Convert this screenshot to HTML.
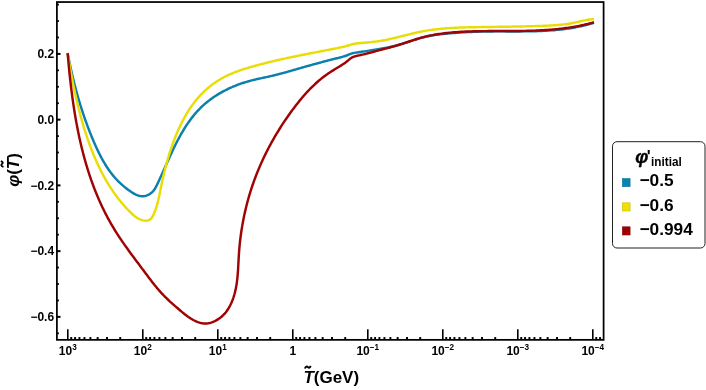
<!DOCTYPE html>
<html><head><meta charset="utf-8"><title>plot</title>
<style>
html,body{margin:0;padding:0;background:#fff;}
body{width:706px;height:390px;overflow:hidden;position:relative;font-family:"Liberation Sans",sans-serif;}
</style></head><body>
<svg width="706" height="390" viewBox="0 0 706 390" style="position:absolute;left:0;top:0;display:block;will-change:transform;-webkit-font-smoothing:antialiased">
<rect x="0" y="0" width="706" height="390" fill="#ffffff"/>
<g fill="none" stroke-width="2.45" stroke-linejoin="round" stroke-linecap="butt">
<path d="M67.57,52.95 L67.86,54.44 L68.15,55.92 L68.45,57.40 L68.74,58.88 L69.05,60.36 L69.35,61.84 L69.66,63.31 L69.97,64.78 L70.29,66.25 L70.61,67.72 L70.93,69.19 L71.26,70.65 L71.59,72.12 L71.93,73.58 L72.27,75.04 L72.61,76.50 L72.96,77.95 L73.31,79.41 L73.67,80.86 L74.03,82.31 L74.39,83.76 L74.76,85.20 L75.14,86.65 L75.52,88.09 L75.90,89.54 L76.29,90.98 L76.68,92.42 L77.08,93.85 L77.48,95.29 L77.89,96.72 L78.30,98.16 L78.72,99.59 L79.14,101.02 L79.57,102.45 L80.00,103.87 L80.44,105.30 L80.89,106.72 L81.34,108.14 L81.79,109.56 L82.25,110.98 L82.71,112.40 L83.19,113.82 L83.66,115.23 L84.14,116.65 L84.63,118.06 L85.13,119.47 L85.62,120.88 L86.13,122.29 L86.64,123.70 L87.16,125.10 L87.68,126.51 L88.21,127.91 L88.75,129.31 L89.29,130.71 L89.84,132.11 L90.39,133.51 L90.95,134.91 L91.52,136.30 L92.09,137.70 L92.67,139.09 L93.26,140.49 L93.86,141.88 L94.46,143.27 L95.07,144.65 L95.68,146.04 L96.31,147.42 L96.94,148.79 L97.59,150.16 L98.24,151.53 L98.90,152.89 L99.58,154.24 L100.27,155.59 L100.96,156.92 L101.68,158.25 L102.40,159.57 L103.13,160.88 L103.88,162.18 L104.65,163.47 L105.43,164.75 L106.22,166.01 L107.03,167.26 L107.85,168.50 L108.69,169.73 L109.55,170.94 L110.42,172.14 L111.31,173.32 L112.22,174.48 L113.15,175.63 L114.10,176.76 L115.06,177.87 L116.05,178.96 L117.05,180.03 L118.08,181.09 L119.13,182.13 L120.20,183.15 L121.29,184.15 L122.41,185.14 L123.55,186.12 L124.71,187.08 L125.90,188.03 L127.12,188.97 L128.36,189.90 L129.63,190.82 L130.93,191.72 L132.24,192.59 L133.58,193.40 L134.94,194.15 L136.32,194.81 L137.71,195.37 L139.11,195.81 L140.52,196.11 L141.94,196.26 L143.36,196.25 L144.78,196.06 L146.19,195.70 L147.56,195.19 L148.89,194.54 L150.17,193.76 L151.37,192.85 L152.48,191.84 L153.50,190.72 L154.40,189.52 L155.21,188.24 L155.94,186.92 L156.63,185.56 L157.29,184.19 L157.94,182.82 L158.59,181.46 L159.24,180.09 L159.87,178.72 L160.50,177.35 L161.13,175.99 L161.75,174.62 L162.37,173.25 L162.98,171.89 L163.59,170.52 L164.20,169.16 L164.81,167.79 L165.42,166.43 L166.02,165.07 L166.63,163.71 L167.24,162.35 L167.84,160.99 L168.45,159.64 L169.06,158.28 L169.68,156.93 L170.30,155.57 L170.92,154.22 L171.54,152.87 L172.17,151.52 L172.81,150.18 L173.45,148.83 L174.10,147.49 L174.76,146.15 L175.42,144.81 L176.09,143.48 L176.77,142.14 L177.46,140.81 L178.16,139.48 L178.87,138.15 L179.59,136.83 L180.32,135.51 L181.06,134.19 L181.81,132.88 L182.58,131.58 L183.35,130.28 L184.14,128.99 L184.94,127.71 L185.76,126.43 L186.58,125.17 L187.42,123.91 L188.28,122.67 L189.15,121.43 L190.03,120.21 L190.92,119.00 L191.83,117.80 L192.76,116.62 L193.70,115.45 L194.66,114.29 L195.63,113.15 L196.62,112.03 L197.62,110.92 L198.65,109.83 L199.69,108.76 L200.74,107.71 L201.81,106.67 L202.90,105.66 L204.01,104.66 L205.13,103.68 L206.27,102.72 L207.42,101.78 L208.59,100.85 L209.77,99.95 L210.97,99.06 L212.18,98.19 L213.40,97.34 L214.64,96.50 L215.89,95.69 L217.15,94.89 L218.42,94.11 L219.70,93.34 L221.00,92.60 L222.31,91.87 L223.62,91.16 L224.95,90.46 L226.29,89.79 L227.63,89.13 L228.99,88.48 L230.35,87.86 L231.72,87.25 L233.11,86.65 L234.49,86.08 L235.89,85.52 L237.29,84.98 L238.70,84.45 L240.11,83.94 L241.53,83.45 L242.96,82.97 L244.39,82.51 L245.82,82.06 L247.26,81.63 L248.70,81.22 L250.15,80.82 L251.60,80.44 L253.05,80.07 L254.51,79.72 L255.97,79.38 L257.42,79.05 L258.88,78.72 L260.35,78.40 L261.81,78.09 L263.27,77.78 L264.73,77.46 L266.20,77.15 L267.66,76.83 L269.12,76.51 L270.58,76.17 L272.03,75.83 L273.49,75.49 L274.94,75.13 L276.39,74.77 L277.85,74.40 L279.30,74.02 L280.74,73.64 L282.19,73.25 L283.64,72.86 L285.09,72.46 L286.53,72.06 L287.97,71.66 L289.42,71.25 L290.86,70.84 L292.30,70.43 L293.75,70.01 L295.19,69.60 L296.63,69.18 L298.07,68.76 L299.51,68.34 L300.95,67.93 L302.39,67.51 L303.83,67.10 L305.28,66.68 L306.72,66.27 L308.16,65.86 L309.60,65.46 L311.05,65.06 L312.49,64.66 L313.93,64.26 L315.38,63.87 L316.82,63.48 L318.27,63.09 L319.72,62.70 L321.16,62.32 L322.61,61.93 L324.06,61.55 L325.51,61.18 L326.96,60.80 L328.41,60.42 L329.86,60.05 L331.31,59.68 L332.76,59.30 L334.21,58.93 L335.67,58.56 L337.12,58.20 L338.57,57.83 L340.03,57.46 L341.48,57.08 L342.93,56.68 L344.36,56.24 L345.78,55.77 L347.18,55.25 L348.57,54.68 L349.95,54.11 L351.35,53.60 L352.77,53.18 L354.23,52.87 L355.70,52.63 L357.18,52.42 L358.67,52.23 L360.16,52.02 L361.64,51.80 L363.12,51.57 L364.60,51.34 L366.08,51.10 L367.56,50.85 L369.04,50.60 L370.52,50.35 L371.99,50.11 L373.47,49.86 L374.95,49.62 L376.44,49.38 L377.92,49.14 L379.40,48.90 L380.88,48.66 L382.36,48.41 L383.83,48.15 L385.31,47.89 L386.78,47.62 L388.25,47.34 L389.72,47.05 L391.18,46.75 L392.65,46.43 L394.10,46.10 L395.55,45.75 L397.00,45.38 L398.44,44.99 L399.88,44.58 L401.31,44.15 L402.74,43.71 L404.17,43.26 L405.59,42.79 L407.02,42.32 L408.44,41.85 L409.86,41.37 L411.28,40.89 L412.70,40.42 L414.12,39.95 L415.54,39.49 L416.97,39.04 L418.40,38.60 L419.83,38.18 L421.27,37.77 L422.72,37.39 L424.17,37.02 L425.62,36.68 L427.08,36.36 L428.55,36.06 L430.02,35.78 L431.49,35.52 L432.97,35.28 L434.45,35.05 L435.94,34.84 L437.43,34.64 L438.92,34.45 L440.41,34.27 L441.90,34.11 L443.40,33.95 L444.89,33.80 L446.39,33.66 L447.89,33.53 L449.38,33.39 L450.88,33.27 L452.37,33.14 L453.87,33.02 L455.36,32.91 L456.86,32.80 L458.35,32.69 L459.84,32.59 L461.34,32.49 L462.83,32.39 L464.32,32.30 L465.81,32.21 L467.31,32.13 L468.80,32.05 L470.29,31.98 L471.79,31.91 L473.28,31.85 L474.77,31.79 L476.27,31.73 L477.76,31.68 L479.26,31.63 L480.75,31.59 L482.25,31.55 L483.75,31.52 L485.24,31.49 L486.74,31.47 L488.24,31.45 L489.74,31.43 L491.24,31.42 L492.73,31.41 L494.23,31.40 L495.73,31.39 L497.23,31.39 L498.73,31.39 L500.24,31.39 L501.74,31.39 L503.24,31.39 L504.74,31.40 L506.24,31.40 L507.74,31.40 L509.24,31.41 L510.74,31.41 L512.25,31.41 L513.75,31.41 L515.25,31.42 L516.75,31.42 L518.25,31.41 L519.75,31.41 L521.25,31.40 L522.75,31.39 L524.25,31.38 L525.75,31.37 L527.25,31.35 L528.75,31.33 L530.25,31.30 L531.75,31.27 L533.25,31.24 L534.74,31.20 L536.24,31.16 L537.74,31.11 L539.23,31.06 L540.73,31.00 L542.22,30.93 L543.72,30.86 L545.21,30.78 L546.70,30.70 L548.20,30.61 L549.69,30.51 L551.18,30.40 L552.67,30.29 L554.16,30.17 L555.64,30.03 L557.13,29.89 L558.62,29.75 L560.10,29.59 L561.58,29.42 L563.07,29.24 L564.55,29.06 L566.03,28.86 L567.51,28.65 L568.99,28.43 L570.47,28.20 L571.94,27.96 L573.42,27.71 L574.89,27.44 L576.36,27.17 L577.83,26.88 L579.30,26.57 L580.77,26.26 L582.24,25.93 L583.70,25.59 L585.17,25.23 L586.63,24.86 L588.09,24.48 L589.55,24.08 L591.00,23.67 L592.46,23.24 L593.91,22.80" stroke="#0b7fad"/>
<path d="M67.55,52.99 L67.79,54.47 L68.04,55.95 L68.29,57.43 L68.54,58.90 L68.79,60.38 L69.04,61.86 L69.30,63.33 L69.55,64.81 L69.81,66.28 L70.08,67.76 L70.34,69.24 L70.61,70.71 L70.88,72.18 L71.15,73.66 L71.43,75.13 L71.71,76.61 L71.99,78.08 L72.27,79.55 L72.56,81.02 L72.85,82.49 L73.14,83.96 L73.44,85.43 L73.74,86.90 L74.05,88.37 L74.36,89.84 L74.67,91.30 L74.98,92.77 L75.30,94.23 L75.63,95.70 L75.95,97.16 L76.29,98.62 L76.62,100.08 L76.96,101.54 L77.31,103.00 L77.66,104.46 L78.01,105.92 L78.37,107.37 L78.73,108.82 L79.10,110.28 L79.48,111.73 L79.86,113.18 L80.24,114.63 L80.63,116.07 L81.02,117.52 L81.42,118.96 L81.83,120.40 L82.24,121.85 L82.66,123.28 L83.08,124.72 L83.51,126.16 L83.94,127.59 L84.38,129.02 L84.83,130.46 L85.28,131.88 L85.74,133.31 L86.21,134.74 L86.68,136.16 L87.16,137.58 L87.64,139.00 L88.13,140.42 L88.63,141.83 L89.14,143.24 L89.65,144.66 L90.17,146.06 L90.70,147.47 L91.23,148.87 L91.77,150.27 L92.32,151.67 L92.88,153.06 L93.45,154.45 L94.02,155.84 L94.61,157.22 L95.20,158.60 L95.80,159.97 L96.40,161.34 L97.02,162.71 L97.65,164.07 L98.28,165.43 L98.92,166.78 L99.58,168.13 L100.24,169.47 L100.91,170.81 L101.59,172.14 L102.28,173.47 L102.98,174.79 L103.69,176.10 L104.41,177.41 L105.15,178.72 L105.89,180.02 L106.64,181.31 L107.40,182.59 L108.18,183.87 L108.96,185.14 L109.75,186.41 L110.56,187.66 L111.38,188.91 L112.21,190.16 L113.05,191.39 L113.90,192.62 L114.76,193.84 L115.64,195.05 L116.53,196.26 L117.43,197.45 L118.34,198.64 L119.26,199.82 L120.20,200.99 L121.15,202.15 L122.11,203.30 L123.09,204.45 L124.07,205.58 L125.07,206.70 L126.08,207.82 L127.11,208.92 L128.15,210.02 L129.20,211.10 L130.27,212.18 L131.35,213.24 L132.45,214.28 L133.58,215.28 L134.74,216.24 L135.95,217.14 L137.20,217.97 L138.51,218.72 L139.88,219.37 L141.33,219.92 L142.83,220.35 L144.36,220.63 L145.88,220.72 L147.33,220.62 L148.67,220.27 L149.87,219.66 L150.90,218.79 L151.80,217.72 L152.58,216.48 L153.27,215.14 L153.90,213.74 L154.49,212.32 L155.04,210.90 L155.56,209.47 L156.05,208.03 L156.51,206.59 L156.94,205.15 L157.35,203.70 L157.73,202.24 L158.10,200.79 L158.45,199.32 L158.78,197.86 L159.10,196.39 L159.41,194.93 L159.72,193.46 L160.02,191.99 L160.31,190.52 L160.60,189.05 L160.90,187.57 L161.20,186.11 L161.50,184.64 L161.81,183.17 L162.12,181.70 L162.44,180.24 L162.77,178.78 L163.10,177.32 L163.43,175.86 L163.77,174.40 L164.12,172.94 L164.47,171.48 L164.84,170.03 L165.20,168.58 L165.58,167.13 L165.96,165.68 L166.34,164.23 L166.74,162.79 L167.14,161.35 L167.55,159.91 L167.97,158.47 L168.39,157.03 L168.83,155.60 L169.27,154.17 L169.72,152.74 L170.17,151.31 L170.64,149.89 L171.11,148.46 L171.60,147.04 L172.09,145.63 L172.59,144.21 L173.11,142.80 L173.63,141.39 L174.16,139.99 L174.70,138.58 L175.25,137.19 L175.81,135.79 L176.38,134.40 L176.96,133.01 L177.56,131.63 L178.16,130.25 L178.78,128.88 L179.40,127.51 L180.04,126.15 L180.69,124.80 L181.35,123.45 L182.02,122.11 L182.71,120.78 L183.41,119.45 L184.12,118.14 L184.84,116.83 L185.58,115.54 L186.33,114.25 L187.09,112.97 L187.87,111.70 L188.66,110.44 L189.47,109.20 L190.29,107.96 L191.13,106.74 L191.98,105.52 L192.85,104.32 L193.74,103.13 L194.65,101.95 L195.58,100.78 L196.52,99.63 L197.49,98.48 L198.47,97.36 L199.48,96.24 L200.50,95.14 L201.54,94.05 L202.60,92.98 L203.68,91.92 L204.77,90.88 L205.89,89.86 L207.01,88.86 L208.16,87.87 L209.32,86.90 L210.49,85.96 L211.69,85.03 L212.89,84.13 L214.11,83.24 L215.34,82.38 L216.59,81.55 L217.85,80.73 L219.12,79.94 L220.41,79.18 L221.71,78.44 L223.01,77.72 L224.33,77.02 L225.66,76.35 L227.00,75.70 L228.35,75.06 L229.71,74.45 L231.07,73.86 L232.45,73.28 L233.83,72.72 L235.22,72.17 L236.61,71.65 L238.02,71.13 L239.43,70.63 L240.84,70.14 L242.26,69.66 L243.68,69.20 L245.11,68.74 L246.54,68.30 L247.97,67.86 L249.41,67.43 L250.85,67.01 L252.29,66.59 L253.73,66.18 L255.18,65.78 L256.62,65.38 L258.07,64.98 L259.52,64.60 L260.97,64.21 L262.42,63.83 L263.87,63.46 L265.32,63.09 L266.78,62.73 L268.24,62.37 L269.69,62.01 L271.15,61.66 L272.61,61.32 L274.07,60.97 L275.53,60.64 L276.99,60.30 L278.46,59.97 L279.92,59.64 L281.39,59.31 L282.85,58.99 L284.32,58.67 L285.78,58.36 L287.25,58.04 L288.72,57.73 L290.19,57.42 L291.65,57.12 L293.12,56.81 L294.59,56.51 L296.06,56.21 L297.53,55.91 L299.00,55.61 L300.47,55.32 L301.94,55.02 L303.41,54.73 L304.88,54.44 L306.35,54.14 L307.82,53.85 L309.29,53.56 L310.76,53.27 L312.23,52.99 L313.70,52.70 L315.17,52.41 L316.64,52.12 L318.11,51.83 L319.58,51.55 L321.05,51.26 L322.52,50.97 L323.99,50.69 L325.46,50.40 L326.93,50.11 L328.40,49.83 L329.87,49.54 L331.34,49.25 L332.81,48.97 L334.28,48.68 L335.75,48.39 L337.22,48.11 L338.70,47.82 L340.17,47.53 L341.64,47.23 L343.10,46.91 L344.56,46.56 L346.00,46.17 L347.44,45.74 L348.86,45.27 L350.29,44.81 L351.72,44.39 L353.17,44.04 L354.63,43.75 L356.11,43.52 L357.60,43.33 L359.09,43.17 L360.59,43.04 L362.09,42.93 L363.59,42.82 L365.09,42.70 L366.59,42.58 L368.08,42.44 L369.58,42.30 L371.06,42.14 L372.55,41.98 L374.04,41.80 L375.52,41.61 L377.00,41.41 L378.48,41.19 L379.95,40.96 L381.43,40.71 L382.90,40.45 L384.37,40.18 L385.83,39.89 L387.30,39.59 L388.76,39.28 L390.22,38.96 L391.69,38.63 L393.15,38.29 L394.60,37.95 L396.06,37.60 L397.52,37.25 L398.98,36.89 L400.43,36.53 L401.89,36.16 L403.34,35.80 L404.80,35.43 L406.26,35.07 L407.71,34.71 L409.17,34.35 L410.63,33.99 L412.08,33.64 L413.54,33.30 L415.00,32.96 L416.47,32.63 L417.93,32.31 L419.39,31.99 L420.86,31.69 L422.33,31.40 L423.80,31.12 L425.27,30.86 L426.74,30.61 L428.22,30.37 L429.70,30.14 L431.18,29.93 L432.66,29.72 L434.14,29.53 L435.63,29.35 L437.11,29.18 L438.60,29.01 L440.09,28.86 L441.58,28.72 L443.07,28.58 L444.56,28.46 L446.06,28.34 L447.55,28.23 L449.05,28.13 L450.54,28.03 L452.04,27.95 L453.54,27.86 L455.04,27.79 L456.54,27.72 L458.04,27.65 L459.54,27.59 L461.04,27.54 L462.54,27.49 L464.04,27.44 L465.54,27.40 L467.05,27.36 L468.55,27.32 L470.05,27.29 L471.55,27.25 L473.05,27.22 L474.56,27.20 L476.06,27.17 L477.56,27.14 L479.06,27.11 L480.56,27.09 L482.06,27.07 L483.56,27.04 L485.06,27.02 L486.56,27.00 L488.06,26.97 L489.55,26.95 L491.05,26.93 L492.55,26.91 L494.05,26.89 L495.55,26.87 L497.04,26.85 L498.54,26.82 L500.04,26.80 L501.54,26.78 L503.03,26.76 L504.53,26.74 L506.03,26.72 L507.53,26.69 L509.02,26.67 L510.52,26.65 L512.02,26.62 L513.51,26.59 L515.01,26.57 L516.51,26.54 L518.00,26.51 L519.50,26.48 L521.00,26.45 L522.49,26.42 L523.99,26.39 L525.49,26.35 L526.98,26.31 L528.48,26.28 L529.98,26.24 L531.47,26.20 L532.97,26.15 L534.47,26.11 L535.97,26.06 L537.46,26.01 L538.96,25.96 L540.46,25.91 L541.96,25.86 L543.46,25.80 L544.95,25.74 L546.45,25.68 L547.95,25.61 L549.45,25.54 L550.95,25.47 L552.45,25.39 L553.94,25.30 L555.44,25.20 L556.93,25.09 L558.43,24.97 L559.92,24.84 L561.41,24.69 L562.90,24.53 L564.39,24.36 L565.88,24.17 L567.36,23.96 L568.84,23.73 L570.32,23.48 L571.79,23.21 L573.26,22.92 L574.74,22.61 L576.20,22.29 L577.67,21.96 L579.14,21.63 L580.61,21.30 L582.07,20.98 L583.54,20.66 L585.01,20.36 L586.49,20.07 L587.96,19.81 L589.44,19.57 L590.92,19.36 L592.41,19.18 L593.90,19.04" stroke="#e9dd06"/>
<path d="M67.63,53.08 L67.76,54.55 L67.89,56.03 L68.01,57.50 L68.15,58.98 L68.28,60.46 L68.41,61.93 L68.55,63.41 L68.69,64.89 L68.83,66.38 L68.98,67.86 L69.12,69.34 L69.27,70.83 L69.42,72.31 L69.58,73.80 L69.73,75.28 L69.89,76.77 L70.05,78.26 L70.22,79.74 L70.38,81.23 L70.55,82.72 L70.73,84.21 L70.90,85.70 L71.08,87.19 L71.26,88.68 L71.45,90.17 L71.64,91.66 L71.83,93.15 L72.02,94.64 L72.22,96.13 L72.42,97.62 L72.63,99.11 L72.84,100.60 L73.05,102.08 L73.27,103.57 L73.48,105.06 L73.71,106.55 L73.94,108.04 L74.17,109.53 L74.40,111.01 L74.64,112.50 L74.89,113.99 L75.13,115.47 L75.39,116.96 L75.64,118.44 L75.90,119.93 L76.17,121.41 L76.44,122.89 L76.71,124.37 L76.99,125.85 L77.27,127.33 L77.56,128.81 L77.85,130.28 L78.15,131.76 L78.45,133.23 L78.76,134.71 L79.07,136.18 L79.39,137.65 L79.71,139.12 L80.04,140.59 L80.37,142.05 L80.71,143.52 L81.05,144.98 L81.40,146.45 L81.76,147.91 L82.12,149.36 L82.48,150.82 L82.85,152.28 L83.23,153.73 L83.61,155.18 L84.00,156.63 L84.39,158.08 L84.79,159.52 L85.20,160.97 L85.61,162.41 L86.03,163.85 L86.46,165.28 L86.89,166.72 L87.32,168.15 L87.77,169.58 L88.22,171.01 L88.67,172.44 L89.14,173.86 L89.61,175.28 L90.08,176.70 L90.57,178.11 L91.05,179.53 L91.55,180.94 L92.05,182.34 L92.56,183.75 L93.08,185.15 L93.61,186.55 L94.14,187.94 L94.68,189.34 L95.22,190.73 L95.78,192.11 L96.34,193.50 L96.90,194.88 L97.48,196.25 L98.06,197.63 L98.65,199.00 L99.25,200.37 L99.86,201.73 L100.47,203.09 L101.09,204.45 L101.72,205.80 L102.36,207.15 L103.01,208.50 L103.66,209.84 L104.32,211.18 L104.99,212.51 L105.67,213.85 L106.36,215.17 L107.05,216.50 L107.76,217.82 L108.47,219.13 L109.19,220.44 L109.92,221.75 L110.66,223.06 L111.40,224.35 L112.16,225.65 L112.92,226.94 L113.69,228.23 L114.48,229.51 L115.27,230.79 L116.07,232.06 L116.87,233.33 L117.69,234.60 L118.51,235.86 L119.34,237.12 L120.18,238.37 L121.02,239.62 L121.87,240.87 L122.72,242.11 L123.58,243.35 L124.45,244.59 L125.31,245.83 L126.19,247.06 L127.07,248.29 L127.95,249.51 L128.83,250.74 L129.72,251.96 L130.61,253.18 L131.51,254.40 L132.40,255.61 L133.30,256.83 L134.20,258.04 L135.10,259.25 L136.00,260.45 L136.90,261.66 L137.80,262.86 L138.71,264.07 L139.61,265.27 L140.51,266.47 L141.41,267.67 L142.30,268.87 L143.20,270.07 L144.09,271.27 L144.98,272.46 L145.88,273.66 L146.77,274.85 L147.66,276.04 L148.55,277.23 L149.45,278.42 L150.34,279.60 L151.25,280.78 L152.15,281.95 L153.07,283.12 L153.99,284.28 L154.92,285.44 L155.86,286.59 L156.80,287.74 L157.76,288.88 L158.73,290.01 L159.71,291.13 L160.70,292.24 L161.71,293.34 L162.73,294.44 L163.77,295.52 L164.83,296.60 L165.90,297.66 L166.99,298.71 L168.09,299.76 L169.20,300.79 L170.33,301.81 L171.46,302.83 L172.59,303.84 L173.73,304.84 L174.86,305.83 L176.00,306.82 L177.13,307.80 L178.25,308.77 L179.37,309.74 L180.48,310.70 L181.60,311.65 L182.72,312.60 L183.85,313.52 L185.00,314.44 L186.16,315.33 L187.35,316.21 L188.57,317.07 L189.82,317.91 L191.10,318.72 L192.42,319.50 L193.78,320.24 L195.16,320.94 L196.56,321.57 L197.99,322.13 L199.43,322.62 L200.89,323.01 L202.35,323.31 L203.82,323.49 L205.29,323.56 L206.76,323.50 L208.22,323.31 L209.67,323.01 L211.10,322.60 L212.51,322.10 L213.90,321.52 L215.25,320.86 L216.58,320.15 L217.86,319.38 L219.11,318.55 L220.32,317.67 L221.48,316.73 L222.60,315.74 L223.67,314.70 L224.70,313.60 L225.67,312.46 L226.59,311.28 L227.47,310.05 L228.29,308.78 L229.07,307.48 L229.80,306.15 L230.49,304.79 L231.14,303.42 L231.75,302.03 L232.32,300.62 L232.86,299.21 L233.36,297.79 L233.82,296.36 L234.26,294.93 L234.66,293.50 L235.03,292.05 L235.37,290.61 L235.69,289.16 L235.98,287.70 L236.25,286.24 L236.50,284.78 L236.72,283.31 L236.93,281.84 L237.11,280.36 L237.28,278.88 L237.44,277.40 L237.58,275.92 L237.70,274.43 L237.82,272.94 L237.93,271.45 L238.02,269.95 L238.12,268.46 L238.20,266.96 L238.28,265.46 L238.36,263.96 L238.44,262.46 L238.52,260.96 L238.59,259.46 L238.68,257.96 L238.76,256.46 L238.85,254.96 L238.95,253.46 L239.06,251.96 L239.18,250.46 L239.30,248.96 L239.43,247.46 L239.57,245.96 L239.72,244.47 L239.87,242.97 L240.03,241.48 L240.21,239.98 L240.39,238.49 L240.57,237.00 L240.77,235.51 L240.97,234.02 L241.18,232.53 L241.40,231.04 L241.63,229.56 L241.87,228.08 L242.11,226.59 L242.37,225.11 L242.63,223.63 L242.90,222.16 L243.17,220.68 L243.46,219.21 L243.75,217.73 L244.05,216.26 L244.36,214.79 L244.68,213.33 L245.01,211.86 L245.34,210.40 L245.69,208.94 L246.04,207.48 L246.40,206.03 L246.76,204.57 L247.14,203.12 L247.52,201.67 L247.92,200.23 L248.32,198.78 L248.73,197.34 L249.14,195.90 L249.57,194.46 L250.00,193.03 L250.45,191.60 L250.90,190.17 L251.36,188.75 L251.82,187.32 L252.30,185.90 L252.78,184.49 L253.27,183.08 L253.77,181.67 L254.28,180.26 L254.80,178.85 L255.32,177.45 L255.86,176.05 L256.40,174.66 L256.95,173.27 L257.51,171.88 L258.07,170.50 L258.64,169.11 L259.23,167.73 L259.81,166.36 L260.41,164.99 L261.01,163.62 L261.63,162.25 L262.25,160.89 L262.87,159.53 L263.51,158.18 L264.15,156.82 L264.80,155.48 L265.46,154.13 L266.13,152.79 L266.80,151.45 L267.48,150.12 L268.16,148.79 L268.86,147.46 L269.56,146.13 L270.27,144.81 L270.99,143.50 L271.71,142.18 L272.44,140.87 L273.18,139.57 L273.92,138.27 L274.67,136.97 L275.43,135.67 L276.20,134.38 L276.97,133.09 L277.75,131.81 L278.54,130.53 L279.33,129.25 L280.13,127.98 L280.93,126.71 L281.75,125.45 L282.57,124.19 L283.39,122.93 L284.22,121.68 L285.06,120.43 L285.91,119.19 L286.76,117.95 L287.62,116.71 L288.48,115.48 L289.35,114.25 L290.23,113.02 L291.11,111.80 L292.00,110.59 L292.90,109.37 L293.80,108.17 L294.71,106.96 L295.63,105.77 L296.55,104.57 L297.48,103.39 L298.42,102.21 L299.36,101.04 L300.31,99.87 L301.27,98.71 L302.24,97.56 L303.22,96.42 L304.20,95.29 L305.20,94.17 L306.20,93.05 L307.22,91.95 L308.24,90.85 L309.27,89.77 L310.31,88.70 L311.36,87.63 L312.43,86.58 L313.50,85.55 L314.58,84.52 L315.68,83.51 L316.78,82.51 L317.90,81.52 L319.03,80.55 L320.17,79.59 L321.32,78.65 L322.48,77.72 L323.66,76.80 L324.85,75.91 L326.05,75.03 L327.26,74.16 L328.49,73.31 L329.73,72.48 L330.98,71.67 L332.25,70.87 L333.52,70.09 L334.81,69.31 L336.09,68.54 L337.38,67.76 L338.67,66.99 L339.94,66.20 L341.22,65.40 L342.48,64.59 L343.72,63.75 L344.95,62.89 L346.16,62.01 L347.34,61.08 L348.50,60.13 L349.64,59.15 L350.81,58.22 L352.05,57.43 L353.39,56.82 L354.81,56.36 L356.29,55.99 L357.78,55.67 L359.27,55.35 L360.75,55.02 L362.22,54.67 L363.67,54.32 L365.13,53.95 L366.57,53.58 L368.02,53.21 L369.46,52.83 L370.90,52.45 L372.34,52.07 L373.78,51.70 L375.23,51.32 L376.68,50.94 L378.12,50.57 L379.57,50.19 L381.03,49.81 L382.48,49.43 L383.93,49.05 L385.38,48.67 L386.83,48.28 L388.29,47.89 L389.74,47.49 L391.19,47.09 L392.63,46.68 L394.08,46.26 L395.52,45.84 L396.97,45.41 L398.40,44.97 L399.84,44.53 L401.27,44.07 L402.70,43.62 L404.13,43.15 L405.56,42.69 L406.99,42.22 L408.42,41.75 L409.84,41.29 L411.27,40.83 L412.70,40.37 L414.12,39.92 L415.55,39.47 L416.98,39.03 L418.42,38.60 L419.85,38.19 L421.29,37.78 L422.73,37.39 L424.17,37.02 L425.62,36.66 L427.07,36.31 L428.52,35.98 L429.98,35.67 L431.44,35.37 L432.91,35.08 L434.37,34.81 L435.84,34.55 L437.31,34.30 L438.79,34.07 L440.26,33.84 L441.74,33.63 L443.22,33.43 L444.71,33.24 L446.19,33.07 L447.68,32.90 L449.17,32.74 L450.66,32.60 L452.15,32.46 L453.65,32.33 L455.14,32.21 L456.64,32.10 L458.14,32.00 L459.64,31.90 L461.14,31.81 L462.64,31.73 L464.14,31.65 L465.64,31.59 L467.15,31.52 L468.65,31.47 L470.16,31.41 L471.66,31.37 L473.16,31.32 L474.67,31.29 L476.17,31.25 L477.68,31.22 L479.18,31.19 L480.69,31.17 L482.19,31.15 L483.70,31.13 L485.20,31.11 L486.71,31.10 L488.21,31.09 L489.72,31.08 L491.22,31.07 L492.72,31.06 L494.23,31.06 L495.73,31.05 L497.23,31.05 L498.74,31.05 L500.24,31.04 L501.74,31.04 L503.24,31.04 L504.75,31.04 L506.25,31.03 L507.75,31.03 L509.25,31.03 L510.75,31.02 L512.25,31.01 L513.75,31.00 L515.25,30.99 L516.75,30.98 L518.25,30.97 L519.75,30.95 L521.25,30.93 L522.75,30.91 L524.24,30.88 L525.74,30.85 L527.24,30.82 L528.74,30.79 L530.23,30.75 L531.73,30.70 L533.22,30.65 L534.72,30.60 L536.21,30.54 L537.70,30.48 L539.20,30.41 L540.69,30.34 L542.18,30.26 L543.67,30.18 L545.16,30.08 L546.65,29.99 L548.14,29.88 L549.63,29.77 L551.12,29.66 L552.61,29.53 L554.09,29.40 L555.58,29.26 L557.07,29.12 L558.55,28.96 L560.04,28.80 L561.52,28.63 L563.00,28.45 L564.48,28.26 L565.97,28.06 L567.45,27.85 L568.93,27.64 L570.41,27.41 L571.88,27.17 L573.36,26.93 L574.84,26.67 L576.31,26.40 L577.79,26.12 L579.26,25.83 L580.74,25.53 L582.21,25.22 L583.68,24.90 L585.15,24.56 L586.62,24.22 L588.09,23.86 L589.56,23.48 L591.02,23.10 L592.49,22.70 L593.96,22.29" stroke="#a00303"/>
</g>
<rect x="56.9" y="2.05" width="546.7" height="337.8" fill="none" stroke="#000" stroke-width="1.75"/>
<g stroke="#000" fill="none"><line x1="67.80" y1="339.85" x2="67.80" y2="329.2" stroke-width="1.6"/><line x1="71.23" y1="339.85" x2="71.23" y2="337.05" stroke-width="1.95"/><line x1="75.07" y1="339.85" x2="75.07" y2="337.05" stroke-width="1.95"/><line x1="79.42" y1="339.85" x2="79.42" y2="337.05" stroke-width="1.95"/><line x1="84.44" y1="339.85" x2="84.44" y2="337.05" stroke-width="1.95"/><line x1="90.38" y1="339.85" x2="90.38" y2="337.05" stroke-width="1.95"/><line x1="97.65" y1="339.85" x2="97.65" y2="337.05" stroke-width="1.95"/><line x1="107.02" y1="339.85" x2="107.02" y2="337.05" stroke-width="1.95"/><line x1="120.22" y1="339.85" x2="120.22" y2="337.05" stroke-width="1.95"/><line x1="142.80" y1="339.85" x2="142.80" y2="329.2" stroke-width="1.6"/><line x1="146.23" y1="339.85" x2="146.23" y2="337.05" stroke-width="1.95"/><line x1="150.07" y1="339.85" x2="150.07" y2="337.05" stroke-width="1.95"/><line x1="154.42" y1="339.85" x2="154.42" y2="337.05" stroke-width="1.95"/><line x1="159.44" y1="339.85" x2="159.44" y2="337.05" stroke-width="1.95"/><line x1="165.38" y1="339.85" x2="165.38" y2="337.05" stroke-width="1.95"/><line x1="172.65" y1="339.85" x2="172.65" y2="337.05" stroke-width="1.95"/><line x1="182.02" y1="339.85" x2="182.02" y2="337.05" stroke-width="1.95"/><line x1="195.22" y1="339.85" x2="195.22" y2="337.05" stroke-width="1.95"/><line x1="217.80" y1="339.85" x2="217.80" y2="329.2" stroke-width="1.6"/><line x1="221.23" y1="339.85" x2="221.23" y2="337.05" stroke-width="1.95"/><line x1="225.07" y1="339.85" x2="225.07" y2="337.05" stroke-width="1.95"/><line x1="229.42" y1="339.85" x2="229.42" y2="337.05" stroke-width="1.95"/><line x1="234.44" y1="339.85" x2="234.44" y2="337.05" stroke-width="1.95"/><line x1="240.38" y1="339.85" x2="240.38" y2="337.05" stroke-width="1.95"/><line x1="247.65" y1="339.85" x2="247.65" y2="337.05" stroke-width="1.95"/><line x1="257.02" y1="339.85" x2="257.02" y2="337.05" stroke-width="1.95"/><line x1="270.22" y1="339.85" x2="270.22" y2="337.05" stroke-width="1.95"/><line x1="292.80" y1="339.85" x2="292.80" y2="329.2" stroke-width="1.6"/><line x1="296.23" y1="339.85" x2="296.23" y2="337.05" stroke-width="1.95"/><line x1="300.07" y1="339.85" x2="300.07" y2="337.05" stroke-width="1.95"/><line x1="304.42" y1="339.85" x2="304.42" y2="337.05" stroke-width="1.95"/><line x1="309.44" y1="339.85" x2="309.44" y2="337.05" stroke-width="1.95"/><line x1="315.38" y1="339.85" x2="315.38" y2="337.05" stroke-width="1.95"/><line x1="322.65" y1="339.85" x2="322.65" y2="337.05" stroke-width="1.95"/><line x1="332.02" y1="339.85" x2="332.02" y2="337.05" stroke-width="1.95"/><line x1="345.22" y1="339.85" x2="345.22" y2="337.05" stroke-width="1.95"/><line x1="367.80" y1="339.85" x2="367.80" y2="329.2" stroke-width="1.6"/><line x1="371.23" y1="339.85" x2="371.23" y2="337.05" stroke-width="1.95"/><line x1="375.07" y1="339.85" x2="375.07" y2="337.05" stroke-width="1.95"/><line x1="379.42" y1="339.85" x2="379.42" y2="337.05" stroke-width="1.95"/><line x1="384.44" y1="339.85" x2="384.44" y2="337.05" stroke-width="1.95"/><line x1="390.38" y1="339.85" x2="390.38" y2="337.05" stroke-width="1.95"/><line x1="397.65" y1="339.85" x2="397.65" y2="337.05" stroke-width="1.95"/><line x1="407.02" y1="339.85" x2="407.02" y2="337.05" stroke-width="1.95"/><line x1="420.22" y1="339.85" x2="420.22" y2="337.05" stroke-width="1.95"/><line x1="442.80" y1="339.85" x2="442.80" y2="329.2" stroke-width="1.6"/><line x1="446.23" y1="339.85" x2="446.23" y2="337.05" stroke-width="1.95"/><line x1="450.07" y1="339.85" x2="450.07" y2="337.05" stroke-width="1.95"/><line x1="454.42" y1="339.85" x2="454.42" y2="337.05" stroke-width="1.95"/><line x1="459.44" y1="339.85" x2="459.44" y2="337.05" stroke-width="1.95"/><line x1="465.38" y1="339.85" x2="465.38" y2="337.05" stroke-width="1.95"/><line x1="472.65" y1="339.85" x2="472.65" y2="337.05" stroke-width="1.95"/><line x1="482.02" y1="339.85" x2="482.02" y2="337.05" stroke-width="1.95"/><line x1="495.22" y1="339.85" x2="495.22" y2="337.05" stroke-width="1.95"/><line x1="517.80" y1="339.85" x2="517.80" y2="329.2" stroke-width="1.6"/><line x1="521.23" y1="339.85" x2="521.23" y2="337.05" stroke-width="1.95"/><line x1="525.07" y1="339.85" x2="525.07" y2="337.05" stroke-width="1.95"/><line x1="529.42" y1="339.85" x2="529.42" y2="337.05" stroke-width="1.95"/><line x1="534.44" y1="339.85" x2="534.44" y2="337.05" stroke-width="1.95"/><line x1="540.38" y1="339.85" x2="540.38" y2="337.05" stroke-width="1.95"/><line x1="547.65" y1="339.85" x2="547.65" y2="337.05" stroke-width="1.95"/><line x1="557.02" y1="339.85" x2="557.02" y2="337.05" stroke-width="1.95"/><line x1="570.22" y1="339.85" x2="570.22" y2="337.05" stroke-width="1.95"/><line x1="592.80" y1="339.85" x2="592.80" y2="329.2" stroke-width="1.6"/><line x1="596.23" y1="339.85" x2="596.23" y2="337.05" stroke-width="1.95"/><line x1="600.07" y1="339.85" x2="600.07" y2="337.05" stroke-width="1.95"/><line x1="56.9" y1="333.31" x2="58.90" y2="333.31" stroke-width="1.8"/><line x1="56.9" y1="316.87" x2="60.50" y2="316.87" stroke-width="2.0"/><line x1="56.9" y1="300.44" x2="58.90" y2="300.44" stroke-width="1.8"/><line x1="56.9" y1="284.00" x2="58.90" y2="284.00" stroke-width="1.8"/><line x1="56.9" y1="267.56" x2="58.90" y2="267.56" stroke-width="1.8"/><line x1="56.9" y1="251.13" x2="60.50" y2="251.13" stroke-width="2.0"/><line x1="56.9" y1="234.69" x2="58.90" y2="234.69" stroke-width="1.8"/><line x1="56.9" y1="218.26" x2="58.90" y2="218.26" stroke-width="1.8"/><line x1="56.9" y1="201.82" x2="58.90" y2="201.82" stroke-width="1.8"/><line x1="56.9" y1="185.39" x2="60.50" y2="185.39" stroke-width="2.0"/><line x1="56.9" y1="168.96" x2="58.90" y2="168.96" stroke-width="1.8"/><line x1="56.9" y1="152.52" x2="58.90" y2="152.52" stroke-width="1.8"/><line x1="56.9" y1="136.09" x2="58.90" y2="136.09" stroke-width="1.8"/><line x1="56.9" y1="119.65" x2="60.50" y2="119.65" stroke-width="2.0"/><line x1="56.9" y1="103.22" x2="58.90" y2="103.22" stroke-width="1.8"/><line x1="56.9" y1="86.78" x2="58.90" y2="86.78" stroke-width="1.8"/><line x1="56.9" y1="70.34" x2="58.90" y2="70.34" stroke-width="1.8"/><line x1="56.9" y1="53.91" x2="60.50" y2="53.91" stroke-width="2.0"/><line x1="56.9" y1="37.48" x2="58.90" y2="37.48" stroke-width="1.8"/><line x1="56.9" y1="21.04" x2="58.90" y2="21.04" stroke-width="1.8"/><line x1="56.9" y1="4.61" x2="58.90" y2="4.61" stroke-width="1.8"/></g>
<g font-family="'Liberation Sans', sans-serif" font-weight="bold" fill="#000">
<text x="54.1" y="58.21" font-size="12" text-anchor="end">0.2</text>
<text x="54.1" y="123.95" font-size="12" text-anchor="end">0.0</text>
<text x="54.1" y="189.69" font-size="12" text-anchor="end">−0.2</text>
<text x="54.1" y="255.43" font-size="12" text-anchor="end">−0.4</text>
<text x="54.1" y="321.17" font-size="12" text-anchor="end">−0.6</text>
<text x="67.80" y="354.9" font-size="12" text-anchor="middle">10<tspan font-size="8.2" dy="-4.7">3</tspan></text>
<text x="142.80" y="354.9" font-size="12" text-anchor="middle">10<tspan font-size="8.2" dy="-4.7">2</tspan></text>
<text x="217.80" y="354.9" font-size="12" text-anchor="middle">10<tspan font-size="8.2" dy="-4.7">1</tspan></text>
<text x="292.80" y="354.9" font-size="12" text-anchor="middle">1</text>
<text x="367.80" y="354.9" font-size="12" text-anchor="middle">10<tspan font-size="8.2" dy="-4.7">−1</tspan></text>
<text x="442.80" y="354.9" font-size="12" text-anchor="middle">10<tspan font-size="8.2" dy="-4.7">−2</tspan></text>
<text x="517.80" y="354.9" font-size="12" text-anchor="middle">10<tspan font-size="8.2" dy="-4.7">−3</tspan></text>
<text x="592.80" y="354.9" font-size="12" text-anchor="middle">10<tspan font-size="8.2" dy="-4.7">−4</tspan></text>
<text x="303.4" y="382.6" font-size="17"><tspan font-style="italic">T</tspan>(GeV)</text>
<path d="M304.9,368.6 C305.6,366.2 306.9,366.0 307.9,367.1 C308.9,368.2 310.0,368.0 310.7,365.9" fill="none" stroke="#000" stroke-width="1.9"/>
<g transform="translate(19.4,186.8) rotate(-90)"><text x="0" y="0" font-size="17"><tspan font-style="italic">φ</tspan>(<tspan font-style="italic">T</tspan>)</text><path d="M19.9,-15.9 C20.6,-18.3 21.9,-18.5 22.9,-17.4 C23.9,-16.3 25.0,-16.5 25.7,-18.6" fill="none" stroke="#000" stroke-width="1.9"/></g>
<rect x="612.5" y="141.7" width="92.5" height="106.3" rx="4.5" ry="4.5" fill="#fff" stroke="#222" stroke-width="1"/>
<text transform="translate(635.2,163.3) scale(1.07,1.02)" x="0" y="0" font-size="17.4" font-style="italic" stroke="#000" stroke-width="0.35">φ</text>
<text x="646.7" y="162.0" font-size="16.5">'</text>
<text transform="translate(651.0,165.9) scale(1,1.16)" x="0" y="0" font-size="11.8">initial</text>
<rect x="622.3" y="178.50" width="7.8" height="8.2" fill="#0584b2" stroke="#19759b" stroke-width="0.6"/>
<text x="639.5" y="186.3" font-size="17.3">−0.5</text>
<rect x="622.3" y="202.80" width="7.8" height="8.2" fill="#f0e000" stroke="#c9bd14" stroke-width="0.6"/>
<text x="639.5" y="210.60000000000002" font-size="17.3">−0.6</text>
<rect x="622.3" y="226.80" width="7.8" height="8.2" fill="#9e0000" stroke="#861010" stroke-width="0.6"/>
<text x="639.5" y="234.60000000000002" font-size="17.3">−0.994</text>
</g>
</svg>
</body></html>
